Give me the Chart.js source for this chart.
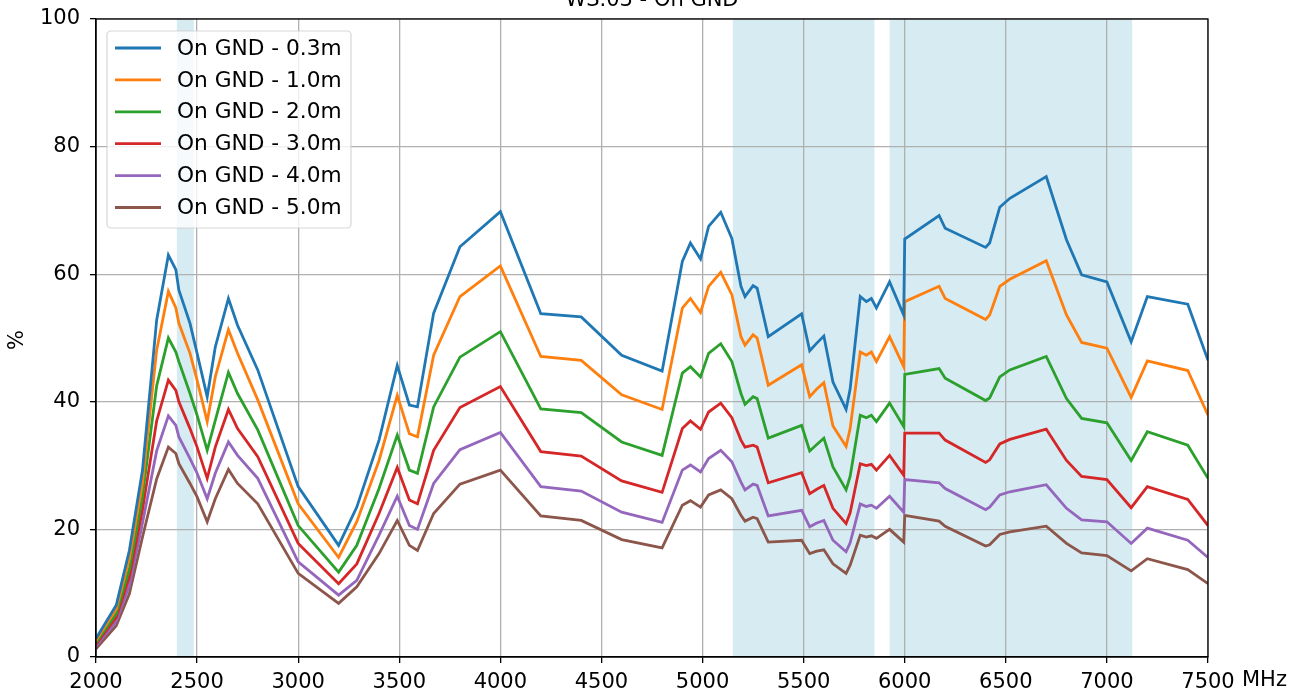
<!DOCTYPE html>
<html>
<head>
<meta charset="utf-8">
<script src="https://cdn.jsdelivr.net/npm/chart.js@4.4.1/dist/chart.umd.min.js"></script>
<style>
html,body{margin:0;padding:0;background:#fff;}
canvas{display:block;}
</style>
</head>
<body>
<canvas id="c" width="1303" height="693"></canvas>
<script>
const chartTitle = "WS.03 - On GND";
const xUnit = "MHz";
const yLabel = "%";
const xTicks = [2000, 2500, 3000, 3500, 4000, 4500, 5000, 5500, 6000, 6500, 7000, 7500];
const yTicks = [0, 20, 40, 60, 80, 100];
const bands = [[2400, 2483.5], [5150, 5850], [5925, 7125]];
const seriesNames = ["On GND - 0.3m", "On GND - 1.0m", "On GND - 2.0m", "On GND - 3.0m", "On GND - 4.0m", "On GND - 5.0m"];
const seriesColors = ["#1f77b4", "#ff7f0e", "#2ca02c", "#d62728", "#9467bd", "#8c564b"];

const freqs = [2000, 2100, 2165, 2230, 2300, 2358, 2395, 2410,
  2465, 2500, 2550, 2590, 2655, 2700, 2800, 3000, 3200, 3290,
  3400, 3490, 3550, 3590, 3670, 3800, 4000, 4200, 4400, 4600,
  4800, 4900, 4940, 4990, 5030, 5090, 5145, 5190, 5210, 5250,
  5270, 5325, 5490, 5530, 5565, 5600, 5645, 5710, 5730, 5780,
  5810, 5835, 5860, 5925, 5995, 6000, 6170, 6200, 6400, 6420,
  6470, 6520, 6700, 6800, 6875, 7000, 7120, 7200, 7400, 7500];

const gnd03 = [2.9, 8.1, 16.7, 29.3, 52.8, 63.0, 60.7, 57.5,
  52.3, 47.6, 40.8, 48.6, 56.2, 52.0, 45.0, 26.7, 17.5, 23.5,
  34.0, 45.7, 39.5, 39.2, 53.9, 64.3, 69.8, 53.8, 53.3, 47.3,
  44.8, 62.0, 64.9, 62.4, 67.5, 69.7, 65.6, 58.1, 56.5, 58.2,
  57.8, 50.2, 53.8, 48.0, 49.2, 50.3, 43.1, 38.8, 42.0, 56.5,
  55.7, 56.2, 54.7, 58.8, 53.6, 65.5, 69.2, 67.2, 64.2, 64.9,
  70.5, 71.9, 75.3, 65.4, 59.9, 58.8, 49.4, 56.5, 55.3, 46.5];

const gnd10 = [2.6, 7.5, 15.4, 27.3, 48.1, 57.3, 54.7, 52.3,
  47.6, 43.4, 36.9, 43.9, 51.3, 47.6, 40.3, 24.0, 15.6, 21.2,
  30.8, 41.0, 35.0, 34.5, 47.3, 56.5, 61.3, 47.1, 46.5, 41.1,
  38.8, 54.7, 56.2, 54.0, 58.1, 60.3, 56.8, 50.2, 48.9, 50.5,
  50.0, 42.6, 45.8, 40.8, 42.0, 43.0, 36.2, 33.0, 35.8, 47.8,
  47.3, 47.8, 46.3, 50.2, 45.5, 55.7, 58.1, 56.2, 52.9, 53.6,
  58.1, 59.2, 62.1, 53.6, 49.3, 48.4, 40.7, 46.4, 44.9, 37.9];

const gnd20 = [2.3, 6.8, 13.8, 25.2, 42.5, 50.0, 47.8, 46.3,
  41.3, 37.9, 32.4, 37.1, 44.6, 41.3, 35.6, 20.6, 13.3, 17.5,
  26.4, 34.8, 29.3, 28.8, 39.2, 47.0, 51.0, 38.9, 38.3, 33.7,
  31.6, 44.5, 45.5, 43.9, 47.6, 49.1, 46.3, 41.3, 39.6, 40.8,
  40.5, 34.3, 36.3, 32.3, 33.3, 34.3, 29.8, 26.2, 28.3, 37.9,
  37.5, 37.9, 36.9, 39.8, 36.1, 44.3, 45.2, 43.7, 40.2, 40.6,
  43.9, 45.0, 47.1, 40.5, 37.4, 36.7, 30.8, 35.3, 33.2, 28.0];

const gnd30 = [2.0, 6.2, 12.5, 23.1, 37.0, 43.4, 41.8, 40.0,
  35.8, 32.9, 28.0, 32.9, 38.8, 35.8, 31.4, 17.8, 11.5, 14.6,
  22.5, 29.7, 24.6, 24.0, 32.4, 39.1, 42.4, 32.2, 31.5, 27.6,
  25.8, 35.8, 37.0, 35.7, 38.4, 39.8, 37.5, 34.0, 32.9, 33.2,
  32.9, 27.3, 28.9, 25.6, 26.3, 26.9, 23.3, 20.9, 22.6, 30.3,
  30.0, 30.2, 29.3, 31.6, 28.5, 35.1, 35.1, 34.0, 30.5, 30.9,
  33.4, 34.1, 35.7, 30.8, 28.3, 27.8, 23.4, 26.7, 24.7, 20.6];

const gnd40 = [1.7, 5.6, 11.2, 21.0, 32.3, 37.8, 36.3, 34.5,
  31.1, 28.8, 24.8, 28.8, 33.7, 31.6, 28.0, 14.9, 9.7, 12.0,
  19.1, 25.2, 20.6, 20.0, 27.2, 32.5, 35.2, 26.7, 26.0, 22.7,
  21.1, 29.3, 30.1, 29.0, 31.1, 32.4, 30.6, 27.4, 26.2, 27.1,
  26.9, 22.1, 23.0, 20.4, 21.0, 21.4, 18.3, 16.5, 17.9, 24.0,
  23.6, 23.8, 23.3, 25.2, 22.7, 27.8, 27.3, 26.4, 23.1, 23.5,
  25.4, 25.9, 27.0, 23.3, 21.5, 21.2, 17.8, 20.2, 18.3, 15.6];

const gnd50 = [1.3, 4.9, 9.9, 18.8, 27.9, 32.9, 31.9, 30.3,
  27.2, 25.1, 21.2, 24.8, 29.4, 27.2, 24.0, 13.1, 8.4, 11.0,
  16.2, 21.4, 17.5, 16.7, 22.5, 27.1, 29.3, 22.1, 21.4, 18.4,
  17.1, 23.8, 24.5, 23.5, 25.4, 26.2, 24.8, 22.2, 21.3, 21.9,
  21.7, 18.0, 18.3, 16.2, 16.6, 16.8, 14.6, 13.1, 14.4, 19.1,
  18.8, 19.0, 18.6, 20.0, 18.0, 22.2, 21.3, 20.5, 17.4, 17.6,
  19.2, 19.6, 20.5, 17.8, 16.3, 15.9, 13.5, 15.4, 13.7, 11.5];

const allSeries = [gnd03, gnd10, gnd20, gnd30, gnd40, gnd50];
const FONT = "DejaVu Sans";

const datasets = allSeries.map((vals, k) => ({
  label: seriesNames[k],
  data: freqs.map((f, i) => ({x: f, y: vals[i]})),
  borderColor: seriesColors[k],
  backgroundColor: seriesColors[k],
  borderWidth: 2.8,
  pointRadius: 0,
  tension: 0,
  fill: false
}));

const decorPlugin = {
  id: 'decor',
  beforeDraw(chart) {
    const {ctx, chartArea, scales} = chart;
    ctx.save();
    ctx.fillStyle = 'rgba(173,216,230,0.5)';
    bands.forEach(([a, b]) => {
      const x1 = scales.x.getPixelForValue(a);
      const x2 = scales.x.getPixelForValue(b);
      ctx.fillRect(x1, chartArea.top, x2 - x1, chartArea.bottom - chartArea.top);
    });
    ctx.restore();
  },
  afterDatasetsDraw(chart) {
    const {ctx, chartArea} = chart;
    ctx.save();
    ctx.strokeStyle = '#000';
    ctx.lineWidth = 1.3;
    ctx.strokeRect(chartArea.left, chartArea.top, chartArea.right - chartArea.left, chartArea.bottom - chartArea.top);
    const lx = 107, ly = 31, lw = 244, lh = 197, r = 4;
    ctx.beginPath();
    ctx.moveTo(lx + r, ly);
    ctx.lineTo(lx + lw - r, ly);
    ctx.arcTo(lx + lw, ly, lx + lw, ly + r, r);
    ctx.lineTo(lx + lw, ly + lh - r);
    ctx.arcTo(lx + lw, ly + lh, lx + lw - r, ly + lh, r);
    ctx.lineTo(lx + r, ly + lh);
    ctx.arcTo(lx, ly + lh, lx, ly + lh - r, r);
    ctx.lineTo(lx, ly + r);
    ctx.arcTo(lx, ly, lx + r, ly, r);
    ctx.closePath();
    ctx.fillStyle = 'rgba(255,255,255,0.8)';
    ctx.fill();
    ctx.strokeStyle = 'rgba(204,204,204,0.8)';
    ctx.lineWidth = 1.2;
    ctx.stroke();
    ctx.font = '21.7px "' + FONT + '"';
    ctx.textBaseline = 'middle';
    ctx.textAlign = 'left';
    seriesNames.forEach((name, k) => {
      const y = 48 + k * 31.9;
      ctx.strokeStyle = seriesColors[k];
      ctx.lineWidth = 2.8;
      ctx.beginPath();
      ctx.moveTo(115, y);
      ctx.lineTo(161, y);
      ctx.stroke();
      ctx.fillStyle = '#000';
      ctx.fillText(name, 177, y + 1);
    });
    ctx.restore();
  },
  afterDraw(chart) {
    const {ctx, chartArea} = chart;
    ctx.save();
    ctx.fillStyle = '#000';
    ctx.font = '21px "' + FONT + '"';
    ctx.textAlign = 'center';
    ctx.textBaseline = 'alphabetic';
    ctx.fillText(chartTitle, (chartArea.left + chartArea.right) / 2, 6);
    ctx.textAlign = 'left';
    ctx.textBaseline = 'middle';
    ctx.fillText(xUnit, 1242, 681);
    ctx.translate(18, 340);
    ctx.rotate(-Math.PI / 2);
    ctx.textAlign = 'center';
    ctx.fillText(yLabel, 0, 0);
    ctx.restore();
  }
};

new Chart(document.getElementById('c'), {
  type: 'line',
  data: {datasets},
  options: {
    responsive: false,
    animation: false,
    devicePixelRatio: 1,
    layout: {padding: {left: 0, top: 19, right: 95, bottom: 0}},
    plugins: {legend: {display: false}, tooltip: {enabled: false}, title: {display: false}},
    scales: {
      x: {
        type: 'linear', min: 2000, max: 7500,
        afterBuildTicks: s => { s.ticks = xTicks.map(v => ({value: v})); },
        afterFit: s => { s.height = 36; s.paddingLeft = 0; s.paddingRight = 0; },
        ticks: {color: '#000', font: {family: FONT, size: 21}, padding: 7, maxRotation: 0, autoSkip: false, callback: v => String(v)},
        grid: {color: '#b0b0b0', lineWidth: 1.3, tickColor: '#000', tickLength: 6, tickWidth: 1.3},
        border: {color: '#000', width: 1.3}
      },
      y: {
        min: 0, max: 100,
        afterBuildTicks: s => { s.ticks = yTicks.map(v => ({value: v})); },
        afterFit: s => { s.width = 96; s.paddingTop = 0; s.paddingBottom = 0; },
        ticks: {color: '#000', font: {family: FONT, size: 21}, padding: 10, callback: v => String(v)},
        grid: {color: '#b0b0b0', lineWidth: 1.3, tickColor: '#000', tickLength: 6, tickWidth: 1.3},
        border: {color: '#000', width: 1.3}
      }
    }
  },
  plugins: [decorPlugin]
});
</script>
</body>
</html>
